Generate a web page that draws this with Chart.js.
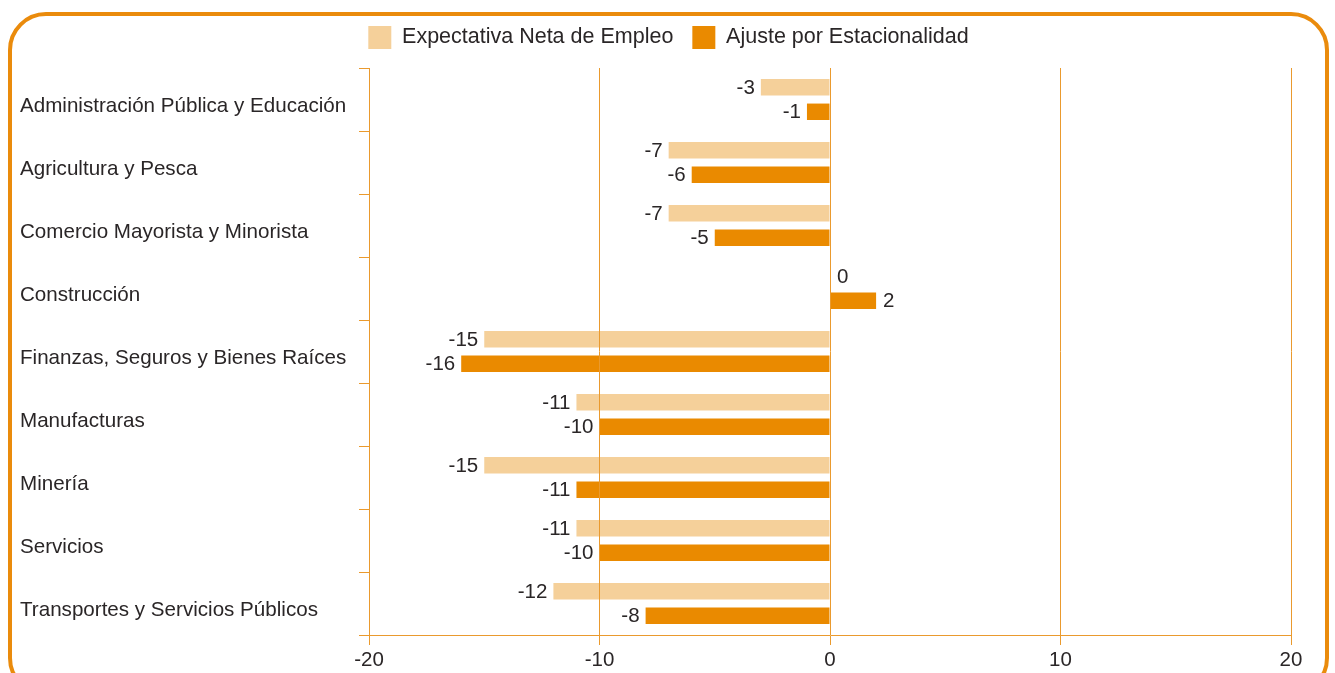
<!DOCTYPE html>
<html>
<head>
<meta charset="utf-8">
<script src="https://cdn.jsdelivr.net/npm/chart.js@4.4.1/dist/chart.umd.min.js"></script>
<style>
  html, body { margin: 0; padding: 0; background: #fff; overflow: hidden; }
  #wrap { position: relative; width: 1335px; height: 673px; }
  canvas { position: absolute; left: 0; top: 0; }
  #frame { position: absolute; left: 8px; top: 12px; width: 1313px; height: 676px;
           border: 4px solid #EA8B0C; border-radius: 38px; pointer-events: none; }
</style>
</head>
<body>
<div id="wrap">
  <canvas id="c" width="1335" height="673"></canvas>
  <div id="frame"></div>
</div>
<script>
const categories = [
  "Administración Pública y Educación",
  "Agricultura y Pesca",
  "Comercio Mayorista y Minorista",
  "Construcción",
  "Finanzas, Seguros y Bienes Raíces",
  "Manufacturas",
  "Minería",
  "Servicios",
  "Transportes y Servicios Públicos"
];
const expectativaNeta = [-3, -7, -7, 0, -15, -11, -15, -11, -12];
const ajusteEstacional = [-1, -6, -5, 2, -16, -10, -11, -10, -8];
const seriesNames = ["Expectativa Neta de Empleo", "Ajuste por Estacionalidad"];
const xTicks = [-20, -10, 0, 10, 20];

const LIGHT = '#F5D09A';
const DARK = '#EA8A00';
const GRID = '#EA9A2E';
const TEXT = '#2A2627';
const FONT = "'Liberation Sans', Arial, Helvetica, sans-serif";

Chart.defaults.borderColor = GRID;

const valueLabels = {
  id: 'valueLabels',
  afterDatasetsDraw(chart) {
    const ctx = chart.ctx;
    ctx.save();
    ctx.font = '20.5px ' + FONT;
    ctx.fillStyle = TEXT;
    ctx.textBaseline = 'middle';
    chart.data.datasets.forEach((ds, di) => {
      const meta = chart.getDatasetMeta(di);
      meta.data.forEach((bar, i) => {
        const v = ds.data[i];
        if (v < 0) {
          ctx.textAlign = 'right';
          ctx.fillText(String(v), bar.x - 6, bar.y + 1);
        } else {
          ctx.textAlign = 'left';
          ctx.fillText(String(v), bar.x + 7, bar.y + 1);
        }
      });
    });
    ctx.restore();
  }
};

const legendShift = {
  id: 'legendShift',
  afterLayout(chart) {
    const lg = chart.legend;
    if (lg) { lg.left += 13; lg.right += 13; lg.top -= 9; lg.bottom -= 9; }
  }
};

new Chart(document.getElementById('c'), {
  type: 'bar',
  data: {
    labels: categories,
    datasets: [
      { label: seriesNames[0], data: expectativaNeta, backgroundColor: LIGHT,
        categoryPercentage: 0.78, barPercentage: 0.67 },
      { label: seriesNames[1], data: ajusteEstacional, backgroundColor: DARK,
        categoryPercentage: 0.78, barPercentage: 0.67 }
    ]
  },
  options: {
    indexAxis: 'y',
    responsive: false,
    animation: false,
    devicePixelRatio: 1,
    layout: { padding: { left: 20, right: 44, top: 16, bottom: 0 } },
    plugins: {
      legend: {
        position: 'top',
        labels: {
          boxWidth: 23, boxHeight: 23, padding: 19, color: TEXT,
          font: { family: FONT, size: 21.5 }
        }
      },
      tooltip: { enabled: false }
    },
    scales: {
      x: {
        min: -20, max: 20,
        afterBuildTicks(scale) { scale.ticks = xTicks.map(v => ({ value: v })); },
        afterFit(scale) { scale.height = 38; },
        grid: { color: GRID, tickColor: GRID, lineWidth: 1, tickLength: 10, drawTicks: true, z: 1 },
        border: { color: GRID, width: 1, z: 1 },
        ticks: { color: TEXT, font: { family: FONT, size: 20.5 }, padding: 3, maxRotation: 0 }
      },
      y: {
        afterFit(scale) { scale.width = 349; },
        grid: { drawOnChartArea: false, offset: true, color: GRID, tickColor: GRID, tickLength: 10 },
        border: { color: GRID, width: 1 },
        ticks: { color: TEXT, font: { family: FONT, size: 20.6 }, crossAlign: 'far', autoSkip: false, labelOffset: 7 }
      }
    }
  },
  plugins: [valueLabels, legendShift]
});
</script>
</body>
</html>
